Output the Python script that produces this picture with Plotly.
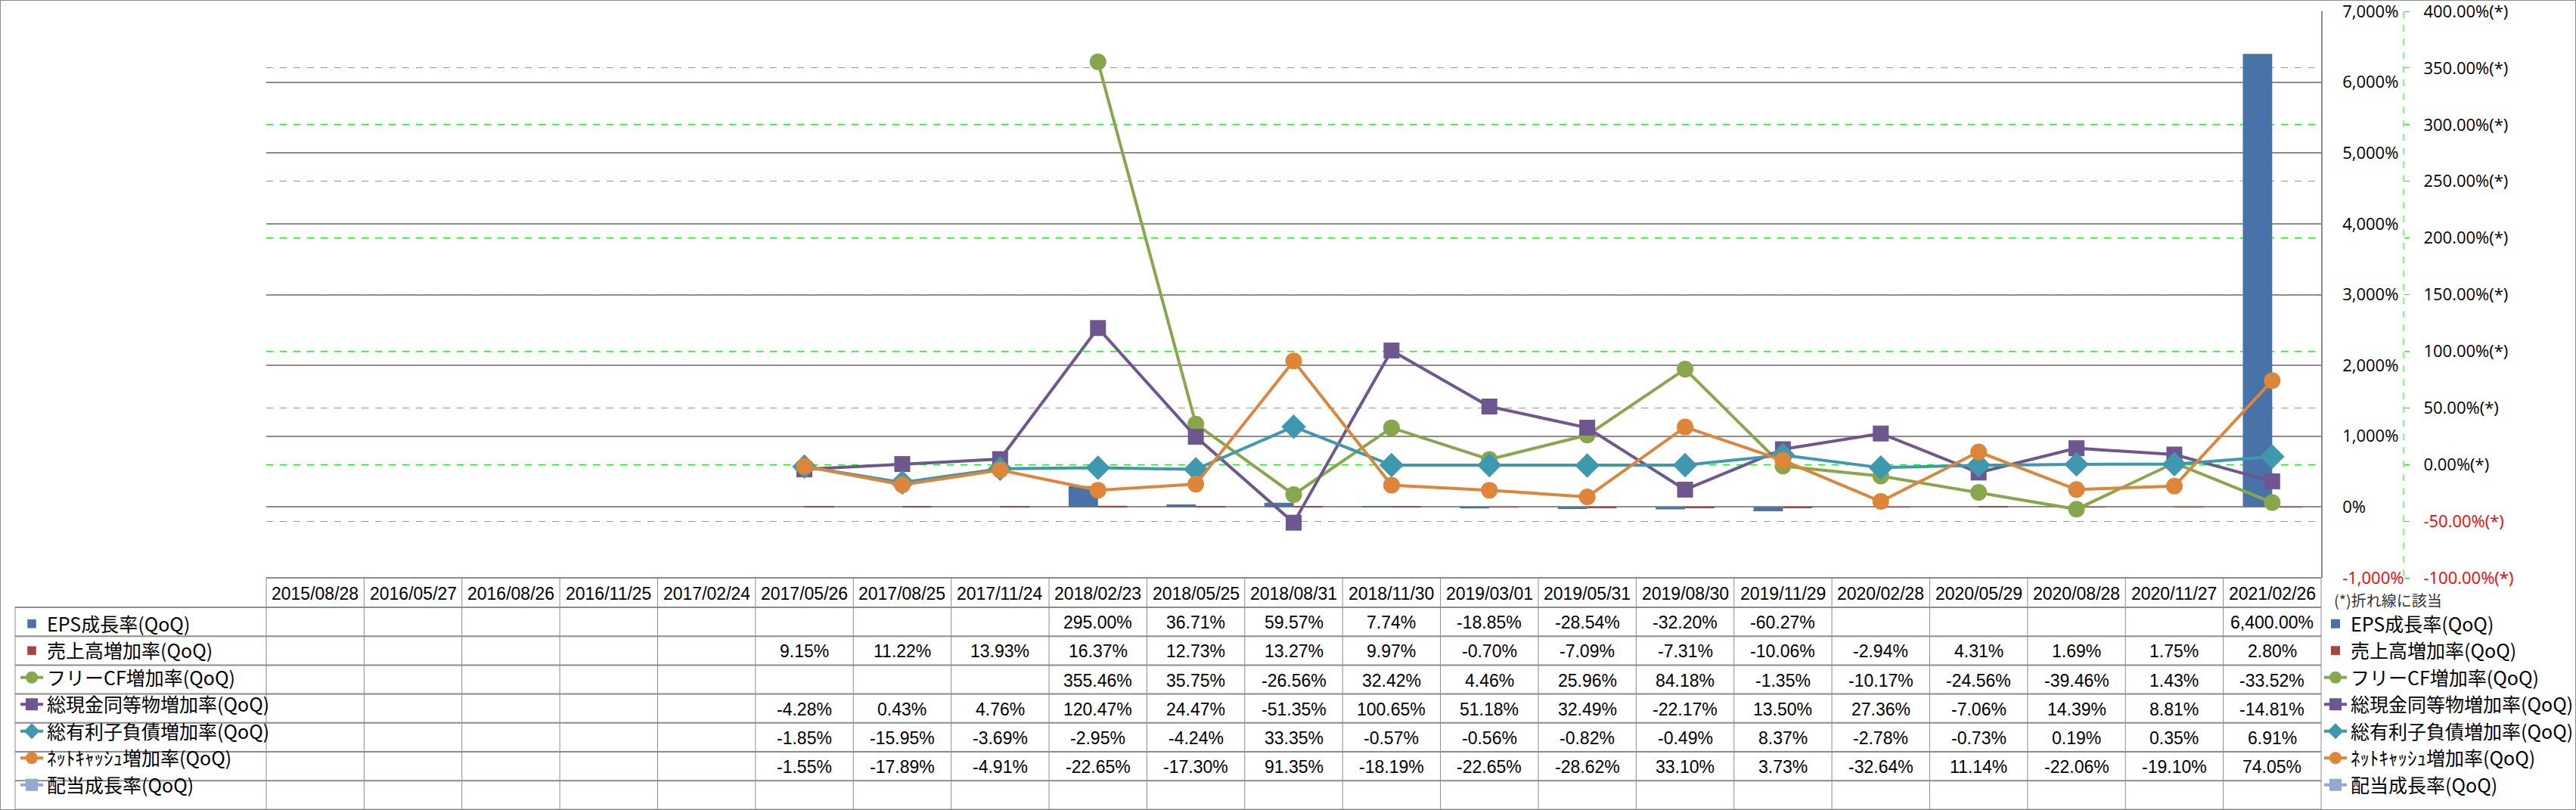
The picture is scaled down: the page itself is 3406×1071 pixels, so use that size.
import plotly.graph_objects as go

W, H = 3406, 1071

dates = ["2015/08/28", "2016/05/27", "2016/08/26", "2016/11/25", "2017/02/24",
         "2017/05/26", "2017/08/25", "2017/11/24", "2018/02/23", "2018/05/25",
         "2018/08/31", "2018/11/30", "2019/03/01", "2019/05/31", "2019/08/30",
         "2019/11/29", "2020/02/28", "2020/05/29", "2020/08/28", "2020/11/27",
         "2021/02/26"]

eps_growth = [None] * 8 + [295.00, 36.71, 59.57, 7.74, -18.85, -28.54, -32.20, -60.27,
                           None, None, None, None, 6400.00]
sales_growth = [None] * 5 + [9.15, 11.22, 13.93, 16.37, 12.73, 13.27, 9.97, -0.70, -7.09,
                             -7.31, -10.06, -2.94, 4.31, 1.69, 1.75, 2.80]
fcf_growth = [None] * 8 + [355.46, 35.75, -26.56, 32.42, 4.46, 25.96, 84.18, -1.35,
                           -10.17, -24.56, -39.46, 1.43, -33.52]
cash_growth = [None] * 5 + [-4.28, 0.43, 4.76, 120.47, 24.47, -51.35, 100.65, 51.18, 32.49,
                            -22.17, 13.50, 27.36, -7.06, 14.39, 8.81, -14.81]
debt_growth = [None] * 5 + [-1.85, -15.95, -3.69, -2.95, -4.24, 33.35, -0.57, -0.56, -0.82,
                            -0.49, 8.37, -2.78, -0.73, 0.19, 0.35, 6.91]
netcash_growth = [None] * 5 + [-1.55, -17.89, -4.91, -22.65, -17.30, 91.35, -18.19, -22.65,
                               -28.62, 33.10, 3.73, -32.64, 11.14, -22.06, -19.10, 74.05]
div_growth = [None] * 21

names = ["EPS成長率(QoQ)", "売上高増加率(QoQ)", "フリーCF増加率(QoQ)", "総現金同等物増加率(QoQ)",
         "総有利子負債増加率(QoQ)", "ﾈｯﾄｷｬｯｼｭ増加率(QoQ)", "配当成長率(QoQ)"]

left_ticks = [-1000, 0, 1000, 2000, 3000, 4000, 5000, 6000, 7000]
right_ticks = [-100, -50, 0, 50, 100, 150, 200, 250, 300, 350, 400]

colors = ["#4773A9", "#A9433F", "#88A74B", "#6E5690", "#3E99AF", "#DE8538", "#93AACF"]

# layout geometry (pixels)
PL, PR, PT, PB = 352, 3069, 15, 764
HEAD_B = 803
ROW_H = 38.2
LABEL_L = 20
AX2_X = 3178


def fx(p):
    return p / W


def fy(p):
    return 1 - p / H


JP = "Noto Sans CJK JP"
TABLE_FONT = "Liberation Sans, Noto Sans CJK JP"
AX_FONT = "Open Sans"

series = [eps_growth, sales_growth, fcf_growth, cash_growth, debt_growth, netcash_growth, div_growth]
kinds = ["bar", "bar", "line", "line", "line", "line", "line"]
symbols = [None, None, "circle", "square", "diamond", "circle", "square"]
msizes = [None, None, 22, 21, 25, 22, 18]

fig = go.Figure()

# real traces
for i, (nm, s, k) in enumerate(zip(names, series, kinds)):
    if k == "bar":
        fig.add_trace(go.Bar(
            x=dates, y=s, name=nm, marker=dict(color=colors[i], line=dict(width=0)),
            width=0.3, offset=-0.3 if i == 0 else 0.0,
            yaxis="y", legend="legend", legendgroup=f"g{i}"))
    else:
        fig.add_trace(go.Scatter(
            x=dates, y=s, name=nm, mode="lines+markers",
            line=dict(color=colors[i], width=4),
            marker=dict(symbol=symbols[i], size=msizes[i], color=colors[i]),
            yaxis="y2", legend="legend", legendgroup=f"g{i}"))

# legend entries for the table's label column
for i, (nm, k) in enumerate(zip(names, kinds)):
    if k == "bar":
        fig.add_trace(go.Bar(
            x=[dates[0]], y=[None], name=nm, marker=dict(color=colors[i]),
            width=0.3, offset=0.0, yaxis="y", legend="legend2", legendgroup=f"h{i}"))
    else:
        fig.add_trace(go.Scatter(
            x=[dates[0]], y=[None], name=nm, mode="lines+markers",
            line=dict(color=colors[i], width=4),
            marker=dict(symbol=symbols[i], size=msizes[i], color=colors[i]),
            yaxis="y2", legend="legend2", legendgroup=f"h{i}"))


def red(t, v):
    return f'<span style="color:#FF0000">{t}</span>' if v < 0 else t


left_text = [red(f"{v:,}%", v) for v in left_ticks]
right_text = [red(f"{v:.2f}%(*)", v) for v in right_ticks]

shapes = []
GRID = "#8C8C8C"
# outer chart border
shapes.append(dict(type="rect", xref="paper", yref="paper", x0=0, x1=1, y0=0, y1=1,
                   line=dict(color="#8C8C8C", width=2)))
# secondary axis dashed line
shapes.append(dict(type="line", xref="paper", yref="paper", x0=fx(AX2_X), x1=fx(AX2_X),
                   y0=fy(PT), y1=fy(PB), line=dict(color="#00FF00", width=1, dash="dash")))

ncat = len(dates)
colw = (PR - PL) / ncat
# table: header top
shapes.append(dict(type="line", xref="paper", yref="paper", x0=fx(PL), x1=fx(PR),
                   y0=fy(PB), y1=fy(PB), line=dict(color=GRID, width=2)))
# table: row lines
for r in range(len(names) + 1):
    yy = HEAD_B + r * ROW_H
    shapes.append(dict(type="line", xref="paper", yref="paper", x0=fx(LABEL_L), x1=fx(PR),
                       y0=fy(yy), y1=fy(yy), line=dict(color=GRID, width=2)))
table_bottom = HEAD_B + len(names) * ROW_H
# vertical lines
for c in range(ncat + 1):
    xx = PL + c * colw
    shapes.append(dict(type="line", xref="paper", yref="paper", x0=fx(xx), x1=fx(xx),
                       y0=fy(PB), y1=fy(table_bottom), line=dict(color=GRID, width=1)))
shapes.append(dict(type="line", xref="paper", yref="paper", x0=fx(LABEL_L), x1=fx(LABEL_L),
                   y0=fy(HEAD_B), y1=fy(table_bottom), line=dict(color=GRID, width=1)))

annotations = []
for j, d in enumerate(dates):
    annotations.append(dict(x=d, xref="x", y=fy((PB + HEAD_B) / 2 + 1), yref="paper", text=d,
                            xanchor="center", yanchor="middle",
                            showarrow=False, font=dict(family=TABLE_FONT, size=23, color="#000")))
for r, s in enumerate(series):
    yc = HEAD_B + (r + 0.5) * ROW_H + 1
    for j, v in enumerate(s):
        if v is None:
            continue
        annotations.append(dict(x=dates[j], xref="x", y=fy(yc), yref="paper",
                                xanchor="center", yanchor="middle",
                                text=f"{v:,.2f}%", showarrow=False,
                                font=dict(family=TABLE_FONT, size=23, color="#000")))
annotations.append(dict(x=fx(3084), xref="paper", y=fy(793), yref="paper",
                        xanchor="left", yanchor="middle",
                        text="(*)折れ線に該当", showarrow=False,
                        font=dict(family=JP, size=20, color="#333")))

legend_common = dict(yanchor="top", xanchor="left", bgcolor="rgba(0,0,0,0)",
                     xref="container", yref="container",
                     font=dict(family=JP, size=25, color="#000"),
                     tracegroupgap=11, traceorder="normal", itemwidth=30,
                     borderwidth=0)

fig.update_layout(
    width=W, height=H,
    margin=dict(l=0, r=0, t=0, b=0, autoexpand=False),
    paper_bgcolor="white", plot_bgcolor="white",
    barmode="overlay",
    showlegend=True,
    xaxis=dict(domain=[fx(PL), fx(PR)], type="category", range=[-0.5, ncat - 0.5],
               showgrid=False, showticklabels=False, zeroline=False, showline=False, ticks=""),
    yaxis=dict(domain=[fy(PB), fy(PT)], range=[-1000, 7000], side="right",
               tickvals=left_ticks, ticktext=left_text, ticks="", ticklabelstandoff=22,
               ticklabeloverflow="allow",
               showgrid=True, gridcolor=GRID, gridwidth=1.5, zeroline=False,
               showline=True, linecolor=GRID, linewidth=1.5,
               tickfont=dict(family=AX_FONT, size=22, color="#000")),
    yaxis2=dict(domain=[fy(PB), fy(PT)], range=[-100, 400], overlaying="y", side="right",
                anchor="free", position=fx(AX2_X),
                tickvals=right_ticks, ticktext=right_text,
                ticks="outside", ticklen=7, tickcolor="#00FF00", tickwidth=1,
                ticklabelstandoff=14, ticklabeloverflow="allow",
                showgrid=True, gridcolor="#00FF00", griddash="dash", gridwidth=1,
                zeroline=False, showline=False,
                tickfont=dict(family=AX_FONT, size=22, color="#000")),
    legend=dict(x=fx(3068), y=fy(HEAD_B - 1), **legend_common),
    legend2=dict(x=fx(LABEL_L + 2), y=fy(HEAD_B - 1), **legend_common),
    shapes=shapes,
    annotations=annotations,
)

fig.write_html("out.html", config={"displayModeBar": False},
               post_script="document.body.style.margin='0px';")
